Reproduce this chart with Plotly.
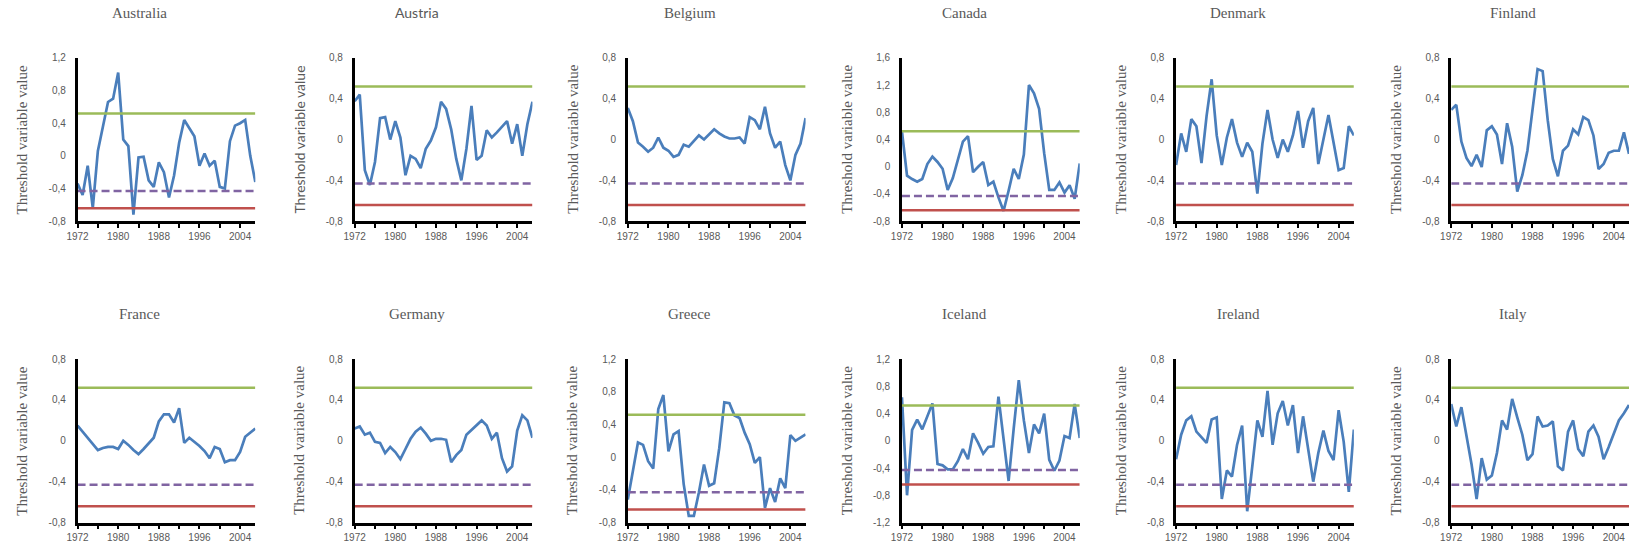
import plotly.graph_objects as go

# Years covered by every country series
years = list(range(1972, 2008))

# Threshold variable value per country, 1972-2007
australia = [-0.34, -0.48, -0.12, -0.64, 0.06, 0.36, 0.66, 0.70, 1.02, 0.20, 0.12, -0.72,
             -0.02, -0.01, -0.30, -0.38, -0.08, -0.20, -0.51, -0.24, 0.16, 0.44, 0.34, 0.24,
             -0.12, 0.03, -0.12, -0.06, -0.38, -0.40, 0.18, 0.37, 0.40, 0.44, 0.00, -0.32]
austria = [0.375, 0.44, -0.30, -0.445, -0.22, 0.21, 0.22, 0.00, 0.18, 0.02, -0.35, -0.16,
           -0.19, -0.28, -0.09, -0.01, 0.12, 0.37, 0.30, 0.10, -0.19, -0.40, -0.09, 0.33,
           -0.20, -0.16, 0.09, 0.02, 0.07, 0.12, 0.18, -0.04, 0.15, -0.16, 0.15, 0.37]
belgium = [0.31, 0.18, -0.03, -0.07, -0.12, -0.08, 0.02, -0.08, -0.11, -0.17, -0.15, -0.05,
           -0.07, -0.01, 0.04, 0.00, 0.05, 0.10, 0.06, 0.03, 0.01, 0.01, 0.02, -0.04,
           0.22, 0.19, 0.10, 0.32, 0.06, -0.08, -0.02, -0.25, -0.40, -0.15, -0.04, 0.21]
canada = [0.52, -0.13, -0.18, -0.22, -0.18, 0.04, 0.15, 0.07, -0.03, -0.34, -0.17, 0.10,
          0.37, 0.45, -0.08, 0.00, 0.07, -0.27, -0.22, -0.45, -0.65, -0.35, -0.03, -0.18,
          0.18, 1.20, 1.08, 0.85, 0.20, -0.34, -0.34, -0.23, -0.38, -0.27, -0.47, 0.05]
denmark = [-0.25, 0.06, -0.12, 0.20, 0.13, -0.23, 0.23, 0.59, 0.04, -0.25, 0.02, 0.20,
           -0.03, -0.17, -0.03, -0.12, -0.53, -0.04, 0.29, 0.00, -0.18, 0.00, -0.12, 0.04,
           0.28, -0.08, 0.18, 0.31, -0.24, 0.00, 0.24, -0.03, -0.30, -0.28, 0.13, 0.04]
finland = [0.29, 0.34, -0.02, -0.18, -0.26, -0.15, -0.27, 0.09, 0.13, 0.05, -0.24, 0.16,
           -0.07, -0.51, -0.35, -0.11, 0.29, 0.69, 0.67, 0.19, -0.19, -0.36, -0.11, -0.06,
           0.10, 0.05, 0.22, 0.19, 0.04, -0.29, -0.24, -0.13, -0.11, -0.11, 0.07, -0.14]
france = [0.15, 0.09, 0.03, -0.03, -0.09, -0.07, -0.06, -0.06, -0.08, 0.00, -0.04, -0.09,
          -0.13, -0.08, -0.02, 0.03, 0.19, 0.26, 0.26, 0.18, 0.32, -0.02, 0.03, -0.01,
          -0.05, -0.10, -0.17, -0.06, -0.08, -0.21, -0.19, -0.19, -0.11, 0.04, 0.08, 0.12]
germany = [0.12, 0.14, 0.06, 0.08, -0.01, -0.02, -0.12, -0.06, -0.11, -0.18, -0.08, 0.02,
           0.09, 0.13, 0.07, 0.00, 0.02, 0.02, 0.01, -0.21, -0.14, -0.09, 0.06, 0.11,
           0.15, 0.20, 0.15, 0.02, 0.08, -0.17, -0.30, -0.25, 0.10, 0.25, 0.20, 0.03]
greece = [-0.52, -0.19, 0.18, 0.15, -0.05, -0.14, 0.59, 0.76, 0.07, 0.28, 0.32, -0.33,
          -0.72, -0.72, -0.43, -0.09, -0.35, -0.32, 0.11, 0.67, 0.66, 0.51, 0.48, 0.30,
          0.16, -0.07, 0.00, -0.62, -0.38, -0.55, -0.26, -0.38, 0.27, 0.20, 0.24, 0.28]
iceland = [0.64, -0.80, 0.16, 0.31, 0.17, 0.37, 0.55, -0.34, -0.36, -0.42, -0.42, -0.30,
           -0.12, -0.27, 0.11, -0.03, -0.19, -0.09, -0.08, 0.65, 0.06, -0.59, 0.18, 0.89,
           0.30, -0.18, 0.24, 0.11, 0.40, -0.28, -0.44, -0.29, 0.07, 0.04, 0.54, 0.04]
ireland = [-0.18, 0.06, 0.20, 0.24, 0.09, 0.04, -0.02, 0.21, 0.23, -0.57, -0.29, -0.35,
           -0.04, 0.15, -0.69, -0.25, 0.20, 0.04, 0.49, -0.04, 0.27, 0.39, 0.15, 0.35,
           -0.12, 0.24, -0.08, -0.40, -0.12, 0.10, -0.10, -0.19, 0.30, -0.01, -0.50, 0.11]
italy = [0.36, 0.14, 0.33, 0.04, -0.23, -0.57, -0.17, -0.38, -0.34, -0.12, 0.20, 0.11,
         0.41, 0.23, 0.06, -0.19, -0.13, 0.24, 0.14, 0.15, 0.19, -0.25, -0.29, 0.09,
         0.20, -0.08, -0.15, 0.09, 0.15, 0.04, -0.18, -0.06, 0.07, 0.20, 0.27, 0.35]

countries = ["Australia", "Austria", "Belgium", "Canada", "Denmark", "Finland",
             "France", "Germany", "Greece", "Iceland", "Ireland", "Italy"]
series = [australia, austria, belgium, canada, denmark, finland,
          france, germany, greece, iceland, ireland, italy]
y_min = [-0.8, -0.8, -0.8, -0.8, -0.8, -0.8, -0.8, -0.8, -0.8, -1.2, -0.8, -0.8]
y_max = [1.2, 0.8, 0.8, 1.6, 0.8, 0.8, 0.8, 0.8, 1.2, 1.2, 0.8, 0.8]

# Regime thresholds shared by all countries
upper_threshold = 0.52
middle_threshold = -0.43
lower_threshold = -0.64

x_tick_years = list(range(1972, 2005, 4))
x_tick_text = ["1972", "", "1980", "", "1988", "", "1996", "", "2004"]

W, H = 1630, 551
col_left = [67, 346, 621, 897, 1173, 1450]
plot_w = 179
row_top = [53, 361]
row_bottom = [220, 528]
title_y = [7, 315]

BLUE = "#4A7EBB"
GREEN = "#9BBB59"
PURPLE = "#8064A2"
RED = "#C0504D"
GREY = "#595959"
SERIF = "Liberation Serif, Times New Roman, serif"
SANS = "Liberation Sans, Arial, sans-serif"


def y_label(v):
    if abs(v) < 1e-9:
        return "0"
    return f"{v:.1f}".replace(".", ",")


fig = go.Figure()
layout = dict(
    width=W, height=H,
    margin=dict(l=0, r=0, t=0, b=0),
    paper_bgcolor="white", plot_bgcolor="white",
    showlegend=False,
    annotations=[],
)

for i, (name, vals) in enumerate(zip(countries, series)):
    r, c = divmod(i, 6)
    n = i + 1
    xa = "x" if n == 1 else f"x{n}"
    ya = "y" if n == 1 else f"y{n}"
    left = col_left[c]
    right = min(left + plot_w, W - 1)
    top, bottom = row_top[r], row_bottom[r]
    label_font = "Lato, sans-serif" if name == "Austria" else SERIF
    label_size = 14 if name == "Austria" else 15

    fig.add_trace(go.Scatter(x=years, y=vals, mode="lines", xaxis=xa, yaxis=ya,
                             line=dict(color=BLUE, width=2.7)))
    for level, colour, dash in [(upper_threshold, GREEN, "solid"),
                                (middle_threshold, PURPLE, "8px,4px"),
                                (lower_threshold, RED, "solid")]:
        fig.add_trace(go.Scatter(x=[years[0], years[-1]], y=[level, level], mode="lines",
                                 xaxis=xa, yaxis=ya,
                                 line=dict(color=colour, width=2.5, dash=dash)))

    steps = int(round((y_max[i] - y_min[i]) / 0.4))
    yt = [round(y_min[i] + 0.4 * k, 2) for k in range(steps + 1)]

    layout["xaxis" if n == 1 else f"xaxis{n}"] = dict(
        domain=[left / W, right / W], anchor=ya,
        range=[years[0], years[-1]],
        showgrid=False, zeroline=False,
        showline=True, linecolor="black", linewidth=2.5,
        ticks="outside", ticklen=4, tickwidth=2, tickcolor="black",
        tickvals=x_tick_years, ticktext=x_tick_text,
        tickfont=dict(family=SANS, size=10, color=GREY),
        fixedrange=True,
    )
    layout["yaxis" if n == 1 else f"yaxis{n}"] = dict(
        domain=[1 - bottom / H, 1 - top / H], anchor=xa,
        range=[y_min[i], y_max[i]],
        showgrid=False, zeroline=False,
        showline=True, linecolor="black", linewidth=2.5,
        ticks="", tickvals=yt, ticktext=[y_label(v) for v in yt],
        ticklabelstandoff=7,
        tickfont=dict(family=SANS, size=10, color=GREY),
        fixedrange=True,
    )

    layout["annotations"].append(dict(
        text=name, xref="paper", yref="paper",
        x=(left + plot_w / 2 - 27) / W, y=1 - title_y[r] / H,
        xanchor="center", yanchor="middle", showarrow=False,
        font=dict(family=label_font, size=label_size, color=GREY),
    ))
    layout["annotations"].append(dict(
        text="Threshold variable value", xref="paper", yref="paper",
        x=(left - 56) / W, y=1 - (top + bottom) / 2 / H,
        xanchor="center", yanchor="middle", textangle=-90, showarrow=False,
        font=dict(family=label_font, size=label_size, color=GREY),
    ))

fig.update_layout(**layout)
fig.write_html("out.html")
